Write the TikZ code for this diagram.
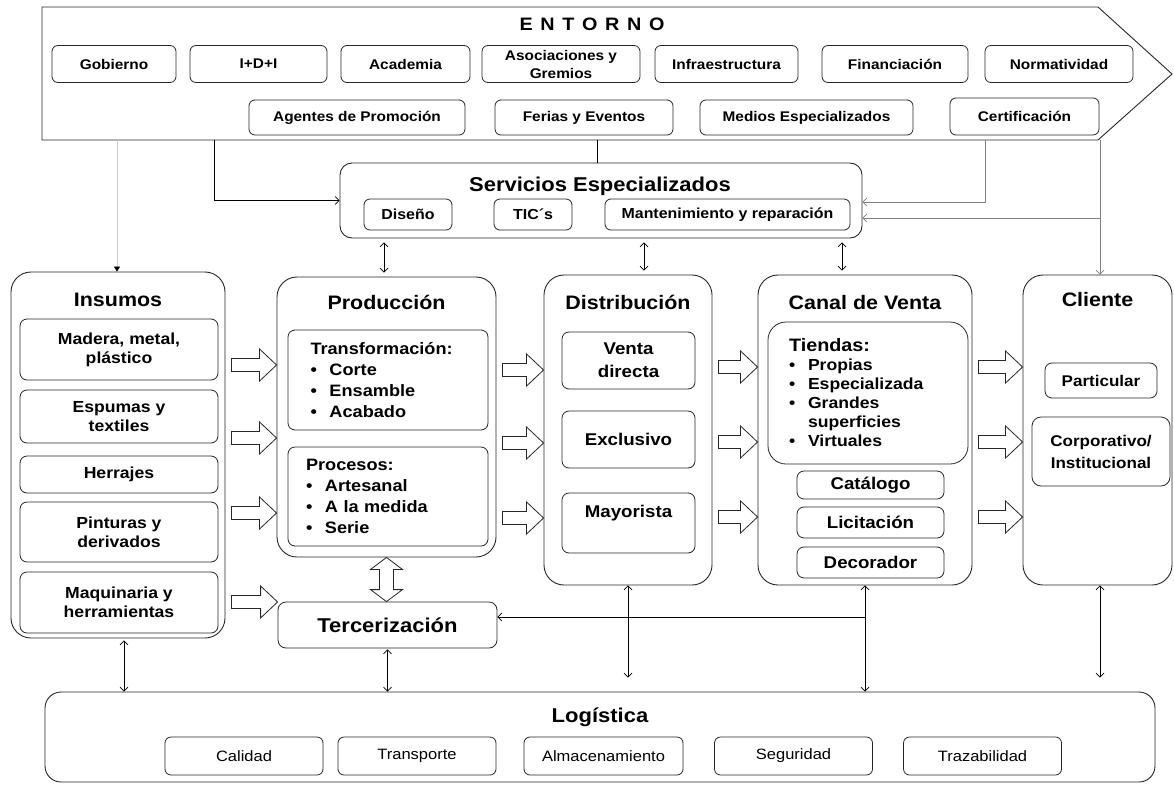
\documentclass[tikz,border=0pt]{standalone}
\usepackage{fontspec}
\setmainfont{Liberation Sans}[FakeStretch=1.1]
\usetikzlibrary{arrows.meta,positioning,calc}

\newcommand{\fs}[2]{\fontsize{#1}{#2}\selectfont}
\newcommand{\itm}{\makebox[19pt][l]{\textbullet}}
% outlined block arrow, left to right
\newcommand{\fatarrow}[2]{%
  \draw[fatarr] let \p1=#1, \p2=#2 in
    (\x1+6pt,\y1+6.5pt) -- (\x2-17pt,\y1+6.5pt) -- (\x2-17pt,\y1+16pt)
    -- (\x2,\y1) -- (\x2-17pt,\y1-16pt) -- (\x2-17pt,\y1-6.5pt)
    -- (\x1+6pt,\y1-6.5pt) -- cycle;}
% outlined double block arrow, top to bottom
\newcommand{\vfatarrow}[2]{%
  \draw[fatarr] let \p1=#1, \p2=#2 in
    (\x1,\y1) -- (\x1+16pt,\y1-12pt) -- (\x1+7pt,\y1-12pt) -- (\x1+7pt,\y2+12pt)
    -- (\x1+16pt,\y2+12pt) -- (\x1,\y2) -- (\x1-16pt,\y2+12pt) -- (\x1-7pt,\y2+12pt)
    -- (\x1-7pt,\y1-12pt) -- (\x1-16pt,\y1-12pt) -- cycle;}

\tikzset{
  col/.style={draw=black!85,line width=0.9pt,rounded corners=20pt},
  sub/.style={draw=black!85,line width=0.8pt,rounded corners=7pt,align=center,inner sep=2pt,font=\bfseries\fs{16}{19}},
  ebox/.style={draw=black!85,line width=0.8pt,rounded corners=6pt,align=center,inner sep=1pt,minimum height=37pt,font=\bfseries\fs{14}{18}},
  lbox/.style={draw=black!85,line width=0.8pt,rounded corners=6pt,minimum width=158pt,minimum height=38pt,font=\fs{15}{18}},
  ttl/.style={font=\bfseries\fs{19.5}{23},inner sep=0pt},
  link/.style={line width=0.7pt,-{Straight Barb[length=4pt,width=8pt]}},
  twoway/.style={line width=0.7pt,{Straight Barb[length=4pt,width=8pt]}-{Straight Barb[length=4pt,width=8pt]}},
  fatarr/.style={draw=black!85,line width=0.8pt,fill=white},
}

\begin{document}
\begin{tikzpicture}[x=1pt,y=-1pt]
\fill[white] (0,0) rectangle (1174,784);
\useasboundingbox (0,0) rectangle (1174,784);

% entorno
\draw[line width=0.9pt,black!85] (42,7) -- (1098,7) -- (1172,74) -- (1098,140) -- (42,140) -- cycle;
\node[font=\bfseries\fs{18}{20}\addfontfeature{LetterSpace=12}] (tentorno) at (592,24) {E N T O R N O};
\node[ebox,minimum width=124] (gob) at (114,64) {Gobierno};
\node[ebox,minimum width=137] (idi) at (258.5,64) {I+D+I};
\node[ebox,minimum width=129] (acad) at (405.5,64) {Academia};
\node[ebox,minimum width=158] (asoc) at (561,64) {Asociaciones y\\Gremios};
\node[ebox,minimum width=143] (infra) at (726.5,64) {Infraestructura};
\node[ebox,minimum width=146] (fin) at (895,64) {Financiación};
\node[ebox,minimum width=148] (norm) at (1059,64) {Normatividad};
\node[ebox,minimum width=216,minimum height=35] (agentes) at (357,117.5) {Agentes de Promoción};
\node[ebox,minimum width=178,minimum height=35] (ferias) at (584,117.5) {Ferias y Eventos};
\node[ebox,minimum width=213,minimum height=35] (medios) at (806.5,117.5) {Medios Especializados};
\node[ebox,minimum width=149,minimum height=37] (cert) at (1024.5,116.5) {Certificación};

% servicios
\node[col,rounded corners=12pt,minimum width=522,minimum height=75] (serv) at (601,200.5) {};
\node[ttl,font=\bfseries\fs{20}{23}] (tserv) at (600,186) {Servicios Especializados};
\node[sub,font=\bfseries\fs{14.5}{17},rounded corners=6pt,minimum width=88,minimum height=31] (diseno) at (408,214.5) {Diseño};
\node[sub,font=\bfseries\fs{14.5}{17},rounded corners=6pt,minimum width=78,minimum height=31] (tics) at (533,214.5) {TIC´s};
\node[sub,font=\bfseries\fs{14.5}{17},rounded corners=6pt,minimum width=245,minimum height=31] (mant) at (727.5,214.5) {Mantenimiento y reparación};

% cadena
\node[col,minimum width=214,minimum height=366] (insumos) at (118,455) {};
\node[col,minimum width=219,minimum height=280] (prod) at (386.5,417) {};
\node[col,minimum width=168,minimum height=310] (dist) at (628,430) {};
\node[col,minimum width=214,minimum height=310] (canal) at (865,430) {};
\node[col,minimum width=149,minimum height=310] (cliente) at (1097.5,430) {};
\node[ttl] (tinsumos) at (insumos.north |- 0,300) {Insumos};
\node[ttl] (tprod) at (prod.north |- 0,302) {Producción};
\node[ttl] (tdist) at (dist.north |- 0,302) {Distribución};
\node[ttl] (tcanal) at (canal.north |- 0,303) {Canal de Venta};
\node[ttl] (tcliente) at (cliente.north |- 0,300) {Cliente};

\node[sub,minimum width=198,minimum height=61] (madera) at (119,349.5) {Madera, metal,\\plástico};
\node[sub,minimum width=198,minimum height=53] (espumas) at (119,416.5) {Espumas y\\textiles};
\node[sub,minimum width=198,minimum height=37] (herrajes) at (119,474.5) {Herrajes};
\node[sub,minimum width=198,minimum height=60] (pinturas) at (119,532) {Pinturas y\\derivados};
\node[sub,minimum width=198,minimum height=61] (maquinaria) at (119,602.5) {Maquinaria y\\herramientas};

\node[sub,align=left,text width=155pt,minimum width=200,minimum height=100,font=\bfseries\fs{16.5}{21}] (transf) at (388,380)
  {Transformación:\\\itm Corte\\\itm Ensamble\\\itm Acabado};
\node[sub,align=left,text width=164pt,minimum width=200,minimum height=99,font=\bfseries\fs{16.5}{21}] (procesos) at (388,496.5)
  {Procesos:\\\itm Artesanal\\\itm A la medida\\\itm Serie};

\node[sub,font=\bfseries\fs{17}{23},minimum width=133,minimum height=57] (venta) at (628.5,360.5) {Venta\\directa};
\node[sub,font=\bfseries\fs{17}{23},minimum width=133,minimum height=57] (exclusivo) at (628.5,439.5) {Exclusivo};
\node[sub,font=\bfseries\fs{17}{23},minimum width=133,minimum height=60] (mayorista) at (628.5,523) {Mayorista\\~};

\node[sub,align=left,text width=158pt,minimum width=200,minimum height=142,rounded corners=18pt] (tiendas) at (868,393)
  {{\fs{18}{19}Tiendas:}\\\itm Propias\\\itm Especializada\\\itm Grandes\\\hspace*{19pt}superficies\\\itm Virtuales};
\node[sub,font=\bfseries\fs{17}{20},minimum width=147,minimum height=28] (catalogo) at (870.5,485) {Catálogo};
\node[sub,font=\bfseries\fs{17}{20},minimum width=147,minimum height=31] (licitacion) at (870.5,522.5) {Licitación};
\node[sub,font=\bfseries\fs{17}{20},minimum width=147,minimum height=31] (decorador) at (870.5,562.5) {Decorador};

\node[sub,font=\bfseries\fs{15.5}{22},minimum width=112,minimum height=35] (particular) at (1101,380.5) {Particular};
\node[sub,font=\bfseries\fs{15.5}{22},minimum width=138,minimum height=69,rounded corners=9pt] (corp) at (1101,451.5) {Corporativo/\\Institucional};

\node[sub,font=\bfseries\fs{20}{23},rounded corners=8pt,minimum width=219,minimum height=46] (terc) at (387.5,625) {Tercerización};

% logistica
\node[col,rounded corners=16pt,minimum width=1110,minimum height=90] (log) at (600,737) {};
\node[ttl,font=\bfseries\fs{20}{23}] (tlog) at (600,717) {Logística};
\node[lbox] (calidad) at (244,756) {Calidad};
\node[lbox] (transporte) at (417,756) {Transporte};
\node[lbox,minimum width=159] (almac) at (603.5,756) {Almacenamiento};
\node[lbox] (seguridad) at (793.5,756) {Seguridad};
\node[lbox] (trazab) at (982.5,756) {Trazabilidad};

% conexiones entorno
\coordinate (e1) at (117,140);
\coordinate (e2) at (214,140);
\coordinate (e3) at (597,140);
\coordinate (e5) at (985,140);
\coordinate (e4) at (1100,140);
\coordinate (e4b) at (1100,218);
\draw[gray!40,line width=0.7pt,-{Triangle[length=5pt,width=6pt,color=black]}] (e1) -- (insumos.north -| e1);
\draw[link] (e2) |- (serv.west);
\draw[line width=0.7pt] (e3) -- (e3 |- serv.north);
\draw[link,gray] (e5) |- ([yshift=-1.5pt]serv.east);
\draw[link,gray] (e4) -- (cliente.north -| e4);
\draw[link,gray] (e4b) -- (serv.east |- e4b);

\draw[twoway,shorten <=4pt,shorten >=4pt] (serv.south -| 384,0) -- (prod.north -| 384,0);
\draw[twoway,shorten <=4pt,shorten >=4pt] (serv.south -| 644,0) -- (dist.north -| 644,0);
\draw[twoway,shorten <=4pt,shorten >=4pt] (serv.south -| 842,0) -- (canal.north -| 842,0);

% flechas de bloque
\fatarrow{(insumos.east |- 0,365)}{(prod.west |- 0,365)}
\fatarrow{(insumos.east |- 0,438)}{(prod.west |- 0,438)}
\fatarrow{(insumos.east |- 0,513)}{(prod.west |- 0,513)}
\fatarrow{(insumos.east |- 0,602)}{(terc.west |- 0,602)}
\fatarrow{(prod.east |- 0,370)}{(dist.west |- 0,370)}
\fatarrow{(prod.east |- 0,443)}{(dist.west |- 0,443)}
\fatarrow{(prod.east |- 0,518)}{(dist.west |- 0,518)}
\fatarrow{(dist.east |- 0,367)}{(canal.west |- 0,367)}
\fatarrow{(dist.east |- 0,442)}{(canal.west |- 0,442)}
\fatarrow{(dist.east |- 0,517)}{(canal.west |- 0,517)}
\fatarrow{(canal.east |- 0,367)}{(cliente.west |- 0,367)}
\fatarrow{(canal.east |- 0,442)}{(cliente.west |- 0,442)}
\fatarrow{(canal.east |- 0,517)}{(cliente.west |- 0,517)}
\vfatarrow{(prod.south)}{(terc.north -| prod.south)}

% logistica
\coordinate (c1) at (canal.south |- 0,617);
\draw[twoway,shorten <=2pt] (insumos.south -| 124,0) -- (log.north -| 124,0);
\draw[twoway,shorten <=1pt] (terc.south) -- (log.north -| terc.south);
\draw[twoway,shorten >=14pt] (dist.south) -- (log.north -| dist.south);
\draw[twoway] (canal.south) -- (log.north -| canal.south);
\draw[link] (c1) -- (terc.east |- c1);
\draw[twoway,shorten >=14pt] (cliente.south -| 1100,0) -- (log.north -| 1100,0);
\end{tikzpicture}
\end{document}
